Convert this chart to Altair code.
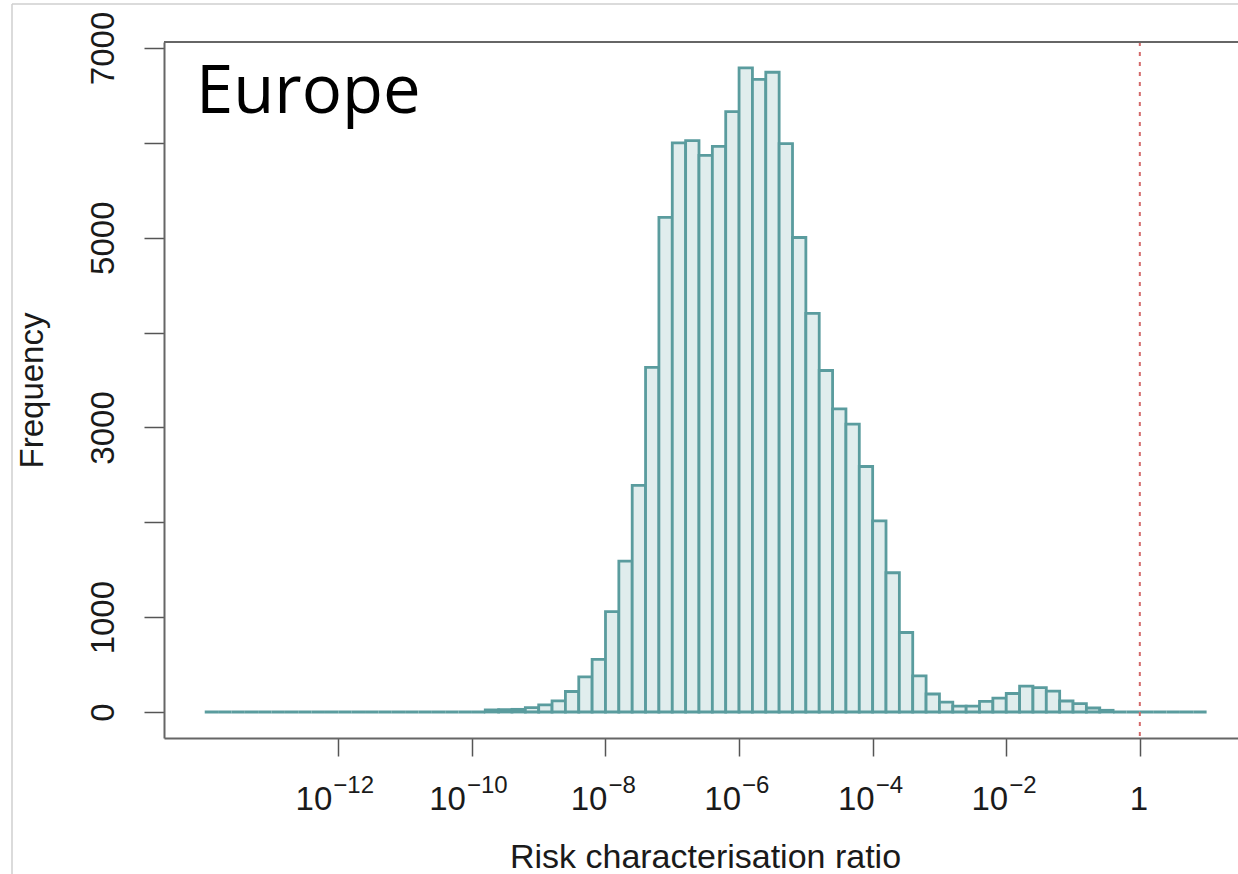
import altair as alt
import pandas as pd

# ---- data (log10 of risk characterisation ratio, histogram bins of width 0.2) ----
bin_left = [
    -14.0, -13.8, -13.6, -13.4, -13.2, -13.0, -12.8, -12.6, -12.4, -12.2,
    -12.0, -11.8, -11.6, -11.4, -11.2, -11.0, -10.8, -10.6, -10.4, -10.2,
    -10.0, -9.8, -9.6, -9.4, -9.2, -9.0, -8.8, -8.6, -8.4, -8.2,
    -8.0, -7.8, -7.6, -7.4, -7.2, -7.0, -6.8, -6.6, -6.4, -6.2,
    -6.0, -5.8, -5.6, -5.4, -5.2, -5.0, -4.8, -4.6, -4.4, -4.2,
    -4.0, -3.8, -3.6, -3.4, -3.2, -3.0, -2.8, -2.6, -2.4, -2.2,
    -2.0, -1.8, -1.6, -1.4, -1.2, -1.0, -0.8, -0.6, -0.4, -0.2,
    0.0, 0.2, 0.4, 0.6, 0.8,
]
bin_width = 0.2
counts = [
    0, 0, 0, 0, 0, 0, 0, 0, 0, 0,
    0, 0, 0, 0, 0, 0, 0, 0, 0, 0,
    0, 22, 25, 28, 46, 75, 117, 216, 370, 555,
    1059, 1590, 2390, 3633, 5214, 6000, 6024, 5868, 5962, 6330,
    6791, 6668, 6744, 5991, 5002, 4202, 3600, 3195, 3035, 2588,
    2014, 1468, 838, 380, 190, 105, 62, 62, 112, 146,
    195, 272, 256, 221, 116, 88, 42, 18, 0, 0,
    0, 0, 0, 0, 0,
]
threshold = [0.0]          # log10(1)
x_ticks = [-12, -10, -8, -6, -4, -2, 0]
x_tick_base = ["10", "10", "10", "10", "10", "10", "1"]
x_tick_exp = ["\u221212", "\u221210", "\u22128", "\u22126", "\u22124", "\u22122", ""]
y_ticks = [0, 1000, 2000, 3000, 4000, 5000, 6000, 7000]
y_labelled = [0, 1000, 3000, 5000, 7000]
panel_label = ["Europe"]

df = pd.DataFrame({"start": bin_left, "count": counts})
df["end"] = df["start"] + bin_width
ticks_df = pd.DataFrame({"v": x_ticks, "base": x_tick_base, "exp": x_tick_exp})
ticks_df["n"] = ticks_df["exp"].str.len()

# ---- layout ----
PW, PH = 1074, 696
FONT = "Liberation Sans"
INK = "#1a1a1a"
FRAME = "#666666"

xscale = alt.Scale(domain=[-14.61, 1.47], nice=False, zero=False)
yscale = alt.Scale(domain=[-274, 7063], nice=False, zero=False)

y_label_expr = "indexof([" + ",".join(str(v) for v in y_labelled) + "], datum.value) >= 0 ? format(datum.value, 'd') : ''"

bars = alt.Chart(df).mark_rect(
    fill="#e0eded", stroke="#5a9c9e", strokeWidth=2.8
).encode(
    x=alt.X("start:Q", scale=xscale, axis=alt.Axis(
        values=x_ticks, labels=False, grid=False,
        tickSize=18, tickColor="#555555", tickWidth=1.5,
        domainColor=FRAME, domainWidth=2,
        title="Risk characterisation ratio", titleFont=FONT, titleFontSize=34,
        titleFontWeight="normal", titleColor=INK, titleX=541, titleY=129,
        titleBaseline="alphabetic", titleAlign="center",
    )),
    x2="end:Q",
    y=alt.Y("count:Q", scale=yscale, axis=alt.Axis(
        values=y_ticks, format="d", labelExpr=y_label_expr, labelOverlap=False,
        labelAngle=270, labelAlign="center", labelBaseline="bottom",
        labelFont=FONT, labelFontSize=33, labelColor=INK, labelPadding=24,
        tickSize=20, tickColor="#555555", tickWidth=1.5, grid=False,
        domainColor=FRAME, domainWidth=2,
        title="Frequency", titleFont=FONT, titleFontSize=33, titleFontWeight="normal",
        titleColor=INK, titleAngle=270, titleX=-122, titleY=348,
        titleAlign="center", titleBaseline="alphabetic",
    )),
    y2=alt.datum(0),
)

ref_line = alt.Chart(pd.DataFrame({"v": threshold})).mark_rule(
    color="#d46a6a", strokeWidth=2, strokeDash=[4, 6]
).encode(x=alt.X("v:Q", scale=xscale))

top_border = alt.Chart(pd.DataFrame({"a": [0]})).mark_rule(
    color=FRAME, strokeWidth=2
).encode(x=alt.value(0), x2=alt.value(PW), y=alt.value(0))

outer_left = alt.Chart(pd.DataFrame({"a": [0]})).mark_rule(
    color="#cfcfcf", strokeWidth=1.5
).encode(x=alt.value(-152), y=alt.value(-38), y2=alt.value(840))
outer_top = alt.Chart(pd.DataFrame({"a": [0]})).mark_rule(
    color="#cfcfcf", strokeWidth=1.5
).encode(x=alt.value(-152), x2=alt.value(PW), y=alt.value(-38))

title_txt = alt.Chart(pd.DataFrame({"t": panel_label})).mark_text(
    font="Open Sans", fontSize=67, color="#000000", align="left", baseline="alphabetic"
).encode(x=alt.value(32), y=alt.value(71), text="t:N")

# tick labels "10" + superscript exponent, grouped by exponent length
label_layers = []
shift = {3: -6, 2: 2}
for n, dxv in shift.items():
    sub = alt.Chart(ticks_df).transform_filter(f"datum.n == {n}")
    label_layers.append(sub.mark_text(
        font=FONT, fontSize=33, color=INK, align="right", baseline="alphabetic", dx=dxv
    ).encode(x=alt.X("v:Q", scale=xscale), y=alt.value(768), text="base:N"))
    label_layers.append(sub.mark_text(
        font=FONT, fontSize=24, color=INK, align="left", baseline="alphabetic", dx=dxv + 1
    ).encode(x=alt.X("v:Q", scale=xscale), y=alt.value(751), text="exp:N"))
label_layers.append(alt.Chart(ticks_df).transform_filter("datum.n == 0").mark_text(
    font=FONT, fontSize=33, color=INK, align="center", baseline="alphabetic", dx=-1
).encode(x=alt.X("v:Q", scale=xscale), y=alt.value(768), text="base:N"))

chart = alt.layer(
    bars, ref_line, top_border, outer_left, outer_top, title_txt, *label_layers
).properties(
    width=PW, height=PH,
    padding={"left": 164, "top": 42, "right": 0, "bottom": 136},
    autosize=alt.AutoSizeParams(type="none"),
    background="white",
).configure_view(stroke=None)

chart.save("out.html", embed_options={"renderer": "svg", "actions": False})
